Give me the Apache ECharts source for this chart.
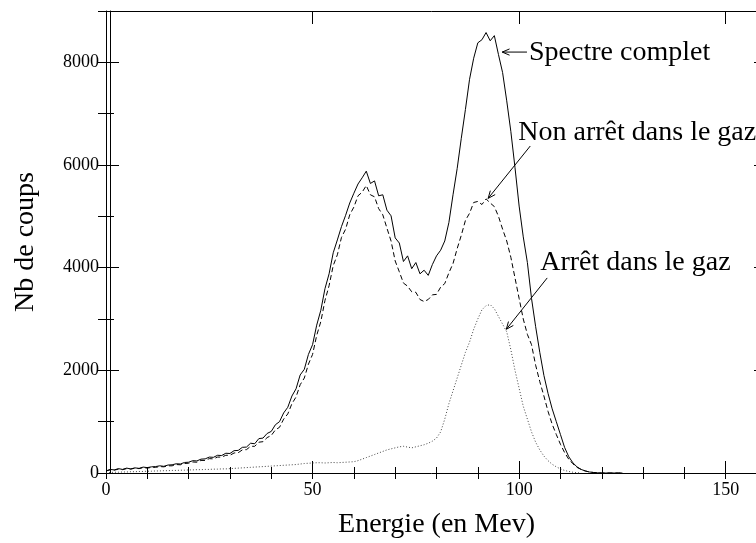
<!DOCTYPE html>
<html>
<head>
<meta charset="utf-8">
<script src="https://cdn.jsdelivr.net/npm/echarts@6/dist/echarts.min.js"></script>
<style>
  html, body { margin: 0; padding: 0; background: #fff; }
  #chart { width: 756px; height: 543px; }
</style>
</head>
<body>
<div id="chart"></div>
<script>
// Counts per 1 MeV bin, starting at 0 MeV.
const spectreComplet = [
    40, 70, 60, 85, 70, 95, 80, 100, 90, 115,
    105, 120, 125, 140, 130, 155, 160, 180, 175, 205,
    210, 240, 235, 270, 275, 310, 305, 345, 340, 385,
    380, 435, 440, 500, 505, 580, 570, 670, 680, 770,
    810, 940, 1000, 1170, 1280, 1500, 1640, 1910, 2020, 2310,
    2500, 2880, 3170, 3590, 3880, 4290, 4540, 4800, 5020, 5260,
    5450, 5630, 5750, 5880, 5640, 5690, 5400, 5420, 5120, 5010,
    4580, 4480, 4120, 4230, 3980, 4100, 3880, 3950, 3850, 4060,
    4230, 4340, 4520, 4880, 5420, 5930, 6520, 7080, 7670, 8080,
    8380, 8440, 8580, 8420, 8520, 8150, 7800, 7250, 6650, 5950,
    5200, 4600, 4100, 3400, 2850, 2350, 1900, 1550, 1250, 1000,
    750, 500, 320, 200, 120, 70, 40, 20, 10, 5,
    0, 0, 0, 0, 0, 0
];
const nonArret = [
    40, 60, 55, 75, 65, 85, 75, 95, 85, 105,
    95, 110, 110, 125, 120, 140, 140, 165, 160, 185,
    190, 215, 210, 245, 245, 280, 275, 310, 310, 345,
    345, 390, 395, 450, 455, 520, 520, 600, 610, 690,
    730, 840, 890, 1050, 1150, 1350, 1480, 1720, 1850, 2120,
    2310, 2680, 2950, 3360, 3650, 4040, 4250, 4590, 4750, 5030,
    5180, 5400, 5470, 5600, 5420, 5380, 5150, 5030, 4770, 4520,
    4130, 3920, 3700, 3640, 3530, 3520, 3380, 3340, 3380, 3470,
    3480, 3620, 3690, 3900, 4080, 4370, 4630, 4920, 5060, 5270,
    5290, 5230, 5340, 5260, 5190, 5000, 4750, 4520, 4200, 3800,
    3400, 3000, 2700, 2500, 2100, 1780, 1500, 1200, 950, 750,
    560, 400, 270, 180, 110, 70, 40, 20, 10, 5,
    0, 0, 0, 0, 0, 0
];
const arretGaz = [
    0, 10, 15, 15, 20, 20, 25, 25, 30, 30,
    35, 35, 40, 40, 45, 45, 50, 50, 55, 55,
    60, 60, 65, 65, 70, 70, 75, 75, 80, 80,
    85, 90, 95, 100, 105, 110, 115, 120, 125, 130,
    135, 140, 145, 150, 155, 160, 165, 175, 185, 190,
    195, 200, 200, 195, 200, 205, 200, 205, 210, 215,
    220, 240, 270, 300, 330, 360, 390, 420, 450, 470,
    490, 510, 520, 505, 490, 510, 530, 550, 580, 620,
    680, 800, 1050, 1350, 1600, 1850, 2100, 2350, 2550, 2800,
    3000, 3180, 3260, 3280, 3200, 3050, 2900, 2750, 2400, 2000,
    1650, 1300, 1050, 800, 600, 450, 330, 240, 170, 120,
    80, 50, 30, 15, 5, 0
];

const seriesNames = ['Spectre complet', 'Non arrêt dans le gaz', 'Arrêt dans le gaz'];

// Annotations in data coordinates: text anchor, arrow tail, arrow head.
const labelAnchors = [[102.4, 8190], [99.8, 6630], [105.1, 4100]];
const arrowTails = [[101.9, 8200], [102.7, 6370], [106.8, 3800]];
const arrowHeads = [[95.9, 8200], [92.5, 5350], [96.9, 2800]];

const xTicksMajor = 50;
const xTicksMinor = 10;
const yTicksMajor = 2000;
const yTicksMinor = 1000;

const font = '"Liberation Serif", "Times New Roman", serif';
const toPairs = (values) => values.map((v, i) => [i, v]);

const chart = echarts.init(document.getElementById('chart'));

const baseAxis = {
    type: 'value',
    gridIndex: 0,
    splitLine: {show: false},
    axisLine: {show: false, lineStyle: {color: '#000', width: 1}},
    axisLabel: {show: false},
    axisTick: {show: true, inside: true, lineStyle: {color: '#000', width: 1}},
};

const xAxis = (position, interval, tickLength, extra) => Object.assign({}, baseAxis, {
    position: position,
    min: 0,
    max: 160,
    interval: interval,
    axisTick: Object.assign({}, baseAxis.axisTick, {length: tickLength}),
}, extra || {});

const yAxis = (position, interval, tickLength, extra) => Object.assign({}, baseAxis, {
    position: position,
    min: 0,
    max: 9000,
    interval: interval,
    axisTick: Object.assign({}, baseAxis.axisTick, {length: tickLength}),
}, extra || {});

const axisLine = {show: true, onZero: false, lineStyle: {color: '#000', width: 1}};

chart.setOption({
    animation: false,
    backgroundColor: '#fff',
    grid: {left: 106, top: 11, width: 661, height: 462, containLabel: false, outerBoundsMode: 'none'},
    xAxis: [
        xAxis('bottom', xTicksMajor, 12, {
            axisLine: axisLine,
            axisLabel: {show: true, showMaxLabel: false, color: '#000', fontSize: 18, fontFamily: font, margin: 8},
            name: 'Energie (en Mev)',
            nameLocation: 'middle',
            nameGap: 38,
            nameTextStyle: {color: '#000', fontSize: 28, fontFamily: font},
        }),
        xAxis('bottom', xTicksMinor, 6, {offset: 0}),
        xAxis('top', xTicksMajor, 13, {axisLine: axisLine, offset: 0}),
        xAxis('top', xTicksMinor, 6, {offset: 0}),
    ],
    yAxis: [
        yAxis('left', yTicksMajor, 13, {
            axisLine: axisLine,
            offset: 0,
            axisLabel: {
                show: true, showMaxLabel: false, color: '#000', fontSize: 18, fontFamily: font, margin: 7,
                formatter: (v) => String(v),
            },
            name: 'Nb de coups',
            nameLocation: 'middle',
            nameGap: 66,
            nameTextStyle: {color: '#000', fontSize: 28, fontFamily: font},
        }),
        yAxis('left', yTicksMinor, 8, {offset: 0}),
        yAxis('left', yTicksMajor, 0, {
            offset: -4,
            axisTick: {show: false},
            axisLine: axisLine,
        }),
        yAxis('right', yTicksMajor, 13, {axisLine: axisLine, offset: 0}),
        yAxis('right', yTicksMinor, 8, {offset: 0}),
    ],
    series: [
        {
            name: seriesNames[0],
            type: 'line',
            data: toPairs(spectreComplet),
            showSymbol: false,
            lineStyle: {color: '#000', width: 1, type: 'solid'},
        },
        {
            name: seriesNames[1],
            type: 'line',
            data: toPairs(nonArret),
            showSymbol: false,
            lineStyle: {color: '#000', width: 1, type: [5, 3]},
        },
        {
            name: seriesNames[2],
            type: 'line',
            data: toPairs(arretGaz),
            showSymbol: false,
            lineStyle: {color: '#444', width: 1, type: [1, 2]},
        },
    ],
});

// Arrows and their texts, placed through the chart's own scales.
const toPx = (point) => chart.convertToPixel({xAxisIndex: 0, yAxisIndex: 0}, point);
const annotations = [];
seriesNames.forEach((text, i) => {
    const tail = toPx(arrowTails[i]);
    const head = toPx(arrowHeads[i]);
    const anchor = toPx(labelAnchors[i]);
    const angle = Math.atan2(tail[1] - head[1], tail[0] - head[0]);
    const wing = (a) => [head[0] + 8 * Math.cos(angle + a), head[1] + 8 * Math.sin(angle + a)];

    annotations.push({
        type: 'line',
        shape: {x1: tail[0], y1: tail[1], x2: head[0], y2: head[1]},
        style: {stroke: '#000', lineWidth: 1},
    });
    annotations.push({
        type: 'polyline',
        shape: {points: [wing(0.4), head, wing(-0.4)]},
        style: {stroke: '#000', lineWidth: 1, fill: null},
    });
    annotations.push({
        type: 'text',
        x: anchor[0],
        y: anchor[1],
        style: {text: text, fill: '#000', fontSize: 28, fontFamily: font, align: 'left', verticalAlign: 'middle'},
    });
});
chart.setOption({graphic: annotations});
</script>
</body>
</html>
